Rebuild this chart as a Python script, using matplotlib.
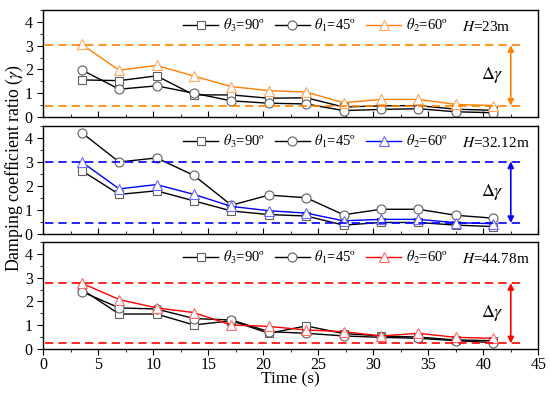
import matplotlib
matplotlib.use("Agg")
import matplotlib.pyplot as plt
from matplotlib.ticker import MultipleLocator

plt.rcParams['font.family'] = ['Liberation Serif', 'DejaVu Serif']
plt.rcParams['mathtext.fontset'] = 'stix'

time = [3.5, 6.9, 10.3, 13.7, 17.1, 20.5, 23.9, 27.3, 30.7, 34.1, 37.5, 40.9]

# Panel H=23m
p1_sq = [1.56, 1.53, 1.73, 0.93, 0.93, 0.79, 0.81, 0.42, 0.47, 0.48, 0.33, 0.28]
p1_ci = [1.98, 1.17, 1.31, 1.00, 0.68, 0.58, 0.55, 0.27, 0.32, 0.35, 0.22, 0.18]
p1_tr = [3.05, 1.97, 2.17, 1.72, 1.28, 1.11, 1.05, 0.60, 0.74, 0.74, 0.53, 0.48]
p1_band = [3.02, 0.48]

# Panel H=32.12m
p2_sq = [2.64, 1.65, 1.80, 1.38, 0.96, 0.81, 0.75, 0.37, 0.48, 0.48, 0.37, 0.31]
p2_ci = [4.22, 3.00, 3.17, 2.44, 1.20, 1.62, 1.51, 0.80, 1.03, 1.03, 0.78, 0.66]
p2_tr = [3.00, 1.88, 2.06, 1.65, 1.15, 0.97, 0.87, 0.55, 0.61, 0.61, 0.47, 0.43]
p2_band = [3.02, 0.46]

# Panel H=44.78m
p3_sq = [2.51, 1.47, 1.47, 1.01, 1.19, 0.66, 0.97, 0.65, 0.55, 0.50, 0.38, 0.35]
p3_ci = [2.41, 1.73, 1.68, 1.28, 1.22, 0.73, 0.66, 0.55, 0.49, 0.45, 0.35, 0.27]
p3_tr = [2.77, 2.08, 1.73, 1.53, 1.01, 0.95, 0.80, 0.73, 0.55, 0.66, 0.49, 0.45]
p3_band = [2.77, 0.24]

heights = ['23m', '32.12m', '44.78m']
colors = ['#FF7F00', '#0000FF', '#FF0000']
tri_edges = ['#FFA860', '#6A6AFF', '#FF6A6A']

panels = [(p1_sq, p1_ci, p1_tr, p1_band),
          (p2_sq, p2_ci, p2_tr, p2_band),
          (p3_sq, p3_ci, p3_tr, p3_band)]

fig = plt.figure(figsize=(5.5, 3.96), dpi=100)
left, width = 0.0787, 0.9
boxes = [(0.7045, 0.2702), (0.4091, 0.2727), (0.1187, 0.2702)]

for i, ((sq, ci, tr, band), (b, h)) in enumerate(zip(panels, boxes)):
    ax = fig.add_axes([left, b, width, h])
    col = colors[i]
    ax.plot(time, sq, '-', color='black', lw=1.0, marker='s', ms=6,
            mfc='white', mec='#606060', mew=0.8, label=r'$\theta_3$=90º')
    ax.plot(time, ci, '-', color='black', lw=1.0, marker='o', ms=6.5,
            mfc='white', mec='#606060', mew=0.8, label=r'$\theta_1$=45º')
    ax.plot(time, tr, '-', color=col, lw=1.0, marker='^', ms=7,
            mfc='white', mec=tri_edges[i], mew=0.8, label=r'$\theta_2$=60º')
    for yv in band:
        ax.plot([0.2, 43.3], [yv, yv], linestyle=(0, (5, 3)), color=col, lw=1.2)
    ax.annotate('', xy=(42.5, band[1]), xytext=(42.5, band[0]),
                arrowprops=dict(arrowstyle='<|-|>', color=col, lw=1.2,
                                mutation_scale=9, shrinkA=0, shrinkB=0))
    ax.text(41.9, (band[0] + band[1]) / 2, r'$\mathit{\Delta\gamma}$', ha='right',
            va='center', fontsize=13)
    ax.set_xlim(0, 45)
    ax.set_ylim(0, 4.5)
    ax.xaxis.set_major_locator(MultipleLocator(5))
    ax.xaxis.set_minor_locator(MultipleLocator(2.5))
    ax.yaxis.set_major_locator(MultipleLocator(1))
    ax.yaxis.set_minor_locator(MultipleLocator(0.5))
    ax.tick_params(axis='y', which='both', direction='out', labelsize=11.5)
    ax.tick_params(axis='y', which='major', length=4)
    ax.tick_params(axis='y', which='minor', length=2)
    if i < 2:
        ax.tick_params(axis='x', which='both', direction='in', labelbottom=False)
    else:
        ax.tick_params(axis='x', which='both', direction='out', labelsize=11.5,
                       pad=2)
    ax.tick_params(axis='x', which='major', length=4)
    ax.tick_params(axis='x', which='minor', length=2)
    ax.legend(loc='upper left', bbox_to_anchor=(0.283, 0.935), ncol=3,
              frameon=False, fontsize=10.5, handlelength=2.4,
              handletextpad=0.3, columnspacing=0.7, borderpad=0,
              borderaxespad=0)
    ax.text(0.845, 0.845, r'$H$=' + heights[i], transform=ax.transAxes,
            ha='left', va='center', fontsize=11)
    for s in ax.spines.values():
        s.set_linewidth(1.0)

fig.text(0.027, 0.576, r'Damping coefficient ratio ($\gamma$)', rotation=90,
         ha='center', va='center', fontsize=12.8)
fig.text(0.528, 0.042, 'Time (s)', ha='center', va='center', fontsize=12.5)

fig.savefig('out.png', dpi=100)
